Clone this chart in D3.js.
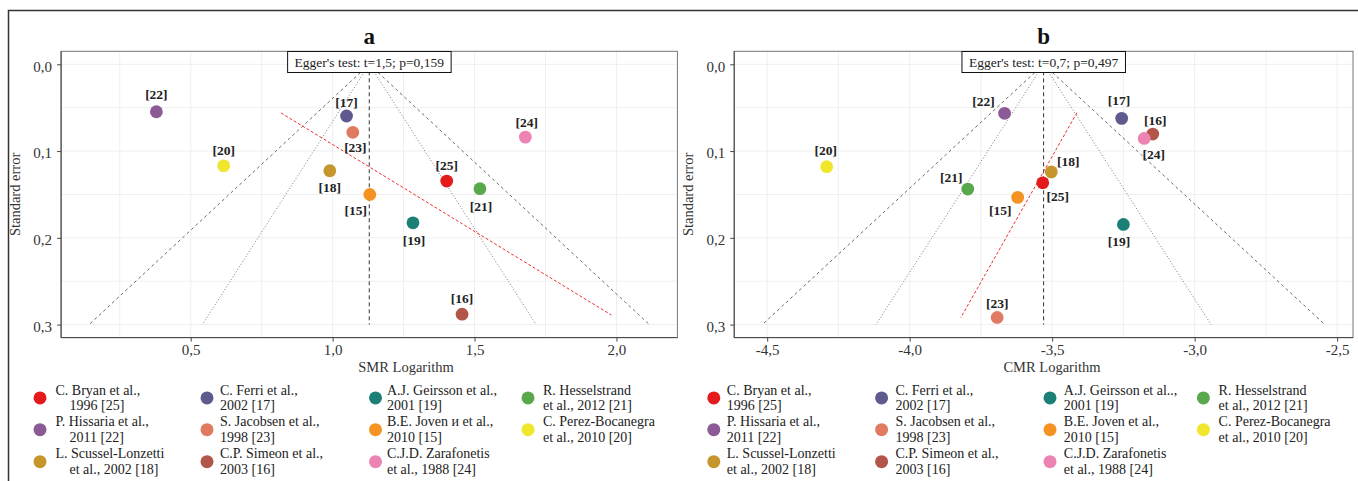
<!DOCTYPE html>
<html><head><meta charset="utf-8">
<script src="https://cdn.jsdelivr.net/npm/d3@7"></script>
<style>
body{margin:0;background:#fff}
svg{display:block}
text{font-family:"Liberation Serif","Times New Roman",serif}
</style>
</head><body><svg id="chart" width="1358" height="481"></svg>
<script>
// ---------------- DATA ----------------
const studyRefs = ["[25]","[17]","[19]","[21]","[22]","[23]","[15]","[20]","[18]","[16]","[24]"];
const studyColors = ["#e41a1c","#5f5a8e","#1d8076","#5aa84c","#8c5a94","#e07a60","#f59322","#f0e62c","#c4962b","#b3564a","#ec83b3"];
const legendLabelsA = [
  ["C. Bryan et al.,","1996 [25]"],["C. Ferri et al.,","2002 [17]"],["A.J. Geirsson et al.,","2001 [19]"],["R. Hesselstrand","et al., 2012 [21]"],
  ["P. Hissaria et al.,","2011 [22]"],["S. Jacobsen et al.,","1998 [23]"],["B.E. Joven и et al.,","2010 [15]"],["C. Perez-Bocanegra","et al., 2010 [20]"],
  ["L. Scussel-Lonzetti","et al., 2002 [18]"],["C.P. Simeon et al.,","2003 [16]"],["C.J.D. Zarafonetis","et al., 1988 [24]"]
];
const legendLabelsB = [
  ["C. Bryan et al.,","1996 [25]"],["C. Ferri et al.,","2002 [17]"],["A.J. Geirsson et al..,","2001 [19]"],["R. Hesselstrand","et al., 2012 [21]"],
  ["P. Hissaria et al.,","2011 [22]"],["S. Jacobsen et al.,","1998 [23]"],["B.E. Joven et al.,","2010 [15]"],["C. Perez-Bocanegra","et al., 2010 [20]"],
  ["L. Scussel-Lonzetti","et al., 2002 [18]"],["C.P. Simeon et al.,","2003 [16]"],["C.J.D. Zarafonetis","et al., 1988 [24]"]
];
// Panel a: SMR logarithm vs standard error
const smrLog = [1.402,1.049,1.283,1.519,0.379,1.071,1.131,0.616,0.990,1.456,1.679];
const seSMR  = [0.1346,0.0596,0.1827,0.1434,0.0547,0.0784,0.150,0.117,0.1227,0.288,0.0839];
// Panel b: CMR logarithm vs standard error
const cmrLog = [-3.533,-3.256,-3.250,-3.796,-3.667,-3.693,-3.621,-4.291,-3.503,-3.147,-3.177];
const seCMR  = [0.1366,0.0623,0.1846,0.1438,0.0565,0.2918,0.1534,0.118,0.124,0.0804,0.0854];
// pooled estimates (funnel centre)
const pooledA = 1.129, pooledB = -3.530;
const zInner = 1.96, zOuter = 3.29, seMax = 0.3;
// Egger regression lines (endpoints in data units)
const eggerLineA_x = [0.818, 1.982], eggerLineA_se = [0.056, 0.289];
const eggerLineB_x = [-3.413, -3.821], eggerLineB_se = [0.0558, 0.2922];
const eggerTextA = "Egger's test: t=1,5; p=0,159";
const eggerTextB = "Egger's test: t=0,7; p=0,497";
const yTicks = [0, 0.1, 0.2, 0.3];
const yTickLabels = ["0,0","0,1","0,2","0,3"];
const xTicksA = [0.5, 1, 1.5, 2];
const xTickLabelsA = ["0,5","1,0","1,5","2,0"];
const xTicksB = [-4.5, -4, -3.5, -3, -2.5];
const xTickLabelsB = ["-4,5","-4,0","-3,5","-3,0","-2,5"];

// ---------------- LAYOUT ----------------
const labelOffsetsA = [[0,-15.3],[0,-13.7],[1,17.3],[1,17.3],[0,-17.4],[2.6,15.4],[-14,16],[0,-15.3],[0,16.6],[0,-16],[1.3,-14.7]];
const labelOffsetsB = [[15,14],[-2.6,-17.6],[-4.3,16.7],[-16.5,-11.7],[-21,-12],[0,-14],[-17.4,12.7],[-1,-16],[17,-10.7],[2.6,-14],[9.6,16]];

const svg = d3.select("#chart");
// outer frame
svg.append("rect").attr("x",8.5).attr("y",10.5).attr("width",1400).attr("height",500)
  .attr("fill","none").attr("stroke","#333").attr("stroke-width",1.5);

const yTop = 51.3, yBot = 337.6;

function panel(opt){
  const g = svg.append("g");
  const lo = opt.pooled - zOuter*seMax, hi = opt.pooled + zOuter*seMax;
  const pad = (hi-lo)*0.05;
  const x = d3.scaleLinear().domain([lo-pad, hi+pad]).range([opt.left, opt.right]);
  const y = d3.scaleLinear().domain([-0.015, 0.315]).range([yTop, yBot]);

  // grid (major + minor)
  const xg = d3.range(Math.ceil((lo-pad)/0.25)*0.25, hi+pad, 0.25);
  g.selectAll(".gx").data(xg).join("line")
    .attr("x1",d=>x(d)).attr("x2",d=>x(d)).attr("y1",yTop).attr("y2",yBot)
    .attr("stroke","#ebebeb").attr("stroke-width",0.8);
  const yg = d3.range(0, 0.31, 0.05);
  g.selectAll(".gy").data(yg).join("line")
    .attr("x1",opt.left).attr("x2",opt.right).attr("y1",d=>y(d)).attr("y2",d=>y(d))
    .attr("stroke","#ebebeb").attr("stroke-width",0.8);

  // funnel lines
  const fl = [
    {z:-zOuter, dash:"3,3", col:"#444"}, {z:zOuter, dash:"3,3", col:"#444"},
    {z:-zInner, dash:"1,2", col:"#555"}, {z:zInner, dash:"1,2", col:"#555"}
  ];
  g.selectAll(".fl").data(fl).join("line")
    .attr("x1",x(opt.pooled)).attr("y1",y(0))
    .attr("x2",d=>x(opt.pooled + d.z*seMax)).attr("y2",y(seMax))
    .attr("stroke",d=>d.col).attr("stroke-width",0.8).attr("stroke-dasharray",d=>d.dash);
  g.append("line").attr("x1",x(opt.pooled)).attr("x2",x(opt.pooled))
    .attr("y1",y(0)).attr("y2",y(seMax))
    .attr("stroke","#333").attr("stroke-width",1).attr("stroke-dasharray","4,3");
  // Egger regression line
  g.append("line").attr("x1",x(opt.eggX[0])).attr("y1",y(opt.eggSe[0]))
    .attr("x2",x(opt.eggX[1])).attr("y2",y(opt.eggSe[1]))
    .attr("stroke","#f03030").attr("stroke-width",1).attr("stroke-dasharray","3,2");

  // panel border
  g.append("rect").attr("x",opt.left).attr("y",yTop).attr("width",opt.right-opt.left).attr("height",yBot-yTop)
    .attr("fill","none").attr("stroke","#777").attr("stroke-width",1);
  g.append("line").attr("x1",opt.left).attr("x2",opt.left).attr("y1",yTop).attr("y2",yBot).attr("stroke","#444");
  g.append("line").attr("x1",opt.left).attr("x2",opt.right).attr("y1",yBot).attr("y2",yBot).attr("stroke","#444");

  // axes ticks & labels
  const xa = g.append("g").attr("transform",`translate(0,${yBot})`)
    .call(d3.axisBottom(x).tickValues(opt.xTicks).tickFormat((d,i)=>opt.xTickLabels[i]).tickSize(4).tickPadding(3));
  xa.select(".domain").remove();
  xa.selectAll("line").attr("stroke","#444");
  xa.selectAll("text").attr("font-size",15).attr("fill","#333").attr("font-family","Liberation Serif");
  const ya = g.append("g").attr("transform",`translate(${opt.left},0)`)
    .call(d3.axisLeft(y).tickValues(yTicks).tickFormat((d,i)=>yTickLabels[i]).tickSize(4).tickPadding(5));
  ya.select(".domain").remove();
  ya.selectAll("line").attr("stroke","#444");
  ya.selectAll("text").attr("font-size",15).attr("fill","#333").attr("font-family","Liberation Serif").attr("dy","0.45em");

  // points
  const pts = opt.xs.map((v,i)=>({x:v, se:opt.ses[i], c:studyColors[i], r:studyRefs[i], off:opt.offs[i]}));
  g.selectAll(".pt").data(pts).join("circle")
    .attr("cx",d=>x(d.x)).attr("cy",d=>y(d.se)).attr("r",6.4).attr("fill",d=>d.c);
  g.selectAll(".lb").data(pts).join("text")
    .attr("x",d=>x(d.x)+d.off[0]).attr("y",d=>y(d.se)+d.off[1])
    .attr("text-anchor","middle").attr("dominant-baseline","central")
    .attr("font-size",13.5).attr("font-weight","bold").attr("fill","#222").text(d=>d.r);

  // Egger box
  const bt = g.append("text").attr("x",x(opt.pooled)).attr("y",62).attr("text-anchor","middle")
    .attr("dominant-baseline","central").attr("font-size",13.5).attr("fill","#222").text(opt.eggText);
  const bb = bt.node().getBBox();
  g.insert("rect", function(){return bt.node();})
    .attr("x",bb.x-7).attr("y",51.5).attr("width",bb.width+14).attr("height",21)
    .attr("fill","#fff").attr("stroke","#111").attr("stroke-width",1);

  // titles
  g.append("text").attr("x",(opt.left+opt.right)/2).attr("y",44).attr("text-anchor","middle")
    .attr("font-size",23).attr("font-weight","bold").attr("fill","#111").text(opt.title);
  g.append("text").attr("x",opt.xTitleX).attr("y",372).attr("text-anchor","middle")
    .attr("font-size",14.5).attr("fill","#333").text(opt.xTitle);
  g.append("text").attr("transform",`translate(${opt.left-41},${(yTop+yBot)/2}) rotate(-90)`)
    .attr("text-anchor","middle").attr("font-size",14.5).attr("fill","#333").text("Standard error");

  // legend
  const rowsLine1 = [390, 421.7, 453.7], rowGap = 15.3;
  const leg = opt.legend.map((t,i)=>({t, c:studyColors[i], col:i%4, row:Math.floor(i/4)}));
  const lg = g.append("g");
  lg.selectAll("circle").data(leg).join("circle")
    .attr("cx",d=>opt.legCircleX[d.col]).attr("cy",d=>rowsLine1[d.row]+rowGap/2+0.3)
    .attr("r",6.5).attr("fill",d=>d.c);
  lg.selectAll(".l1").data(leg).join("text")
    .attr("x",d=>opt.legTextX[d.col]).attr("y",d=>rowsLine1[d.row])
    .attr("dominant-baseline","central").attr("font-size",14).attr("fill","#222").text(d=>d.t[0]);
  lg.selectAll(".l2").data(leg).join("text")
    .attr("x",d=>opt.legTextX[d.col] + (d.col===0 ? opt.indent0 : 0)).attr("y",d=>rowsLine1[d.row]+rowGap)
    .attr("dominant-baseline","central").attr("font-size",14).attr("fill","#222").text(d=>d.t[1]);
}

panel({left:61.1, right:677.4, pooled:pooledA, xs:smrLog, ses:seSMR, offs:labelOffsetsA,
  eggX:eggerLineA_x, eggSe:eggerLineA_se, eggText:eggerTextA, title:"a", xTitle:"SMR Logarithm", xTitleX:406,
  xTicks:xTicksA, xTickLabels:xTickLabelsA, legend:legendLabelsA,
  legCircleX:[40,207,375.5,528], legTextX:[55.5,220,387,543], indent0:14});
panel({left:734.2, right:1353, pooled:pooledB, xs:cmrLog, ses:seCMR, offs:labelOffsetsB,
  eggX:eggerLineB_x, eggSe:eggerLineB_se, eggText:eggerTextB, title:"b", xTitle:"CMR Logarithm", xTitleX:1052,
  xTicks:xTicksB, xTickLabels:xTickLabelsB, legend:legendLabelsB,
  legCircleX:[713.8,881.6,1050,1203.4], legTextX:[726.8,895.5,1063.8,1218.6], indent0:0});
</script>
</body></html>
